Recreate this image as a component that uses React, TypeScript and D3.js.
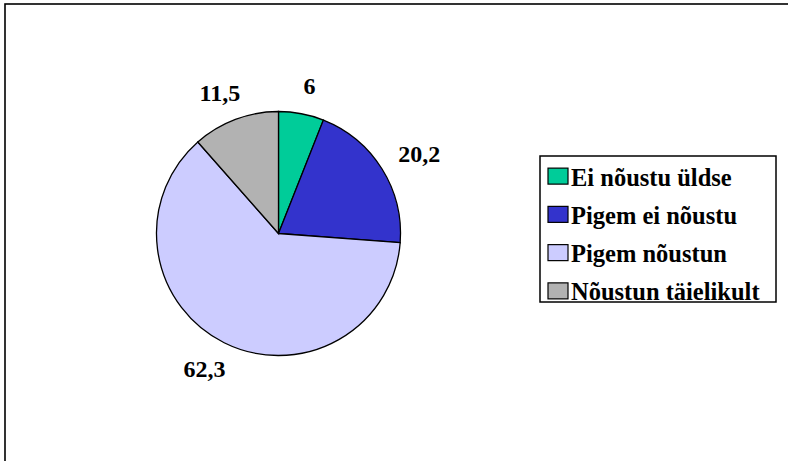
import React from 'react';
import * as d3 from 'd3';

const categories = ['Ei nõustu üldse', 'Pigem ei nõustu', 'Pigem nõustun', 'Nõustun täielikult'];
const values = [6, 20.2, 62.3, 11.5];
const valueLabels = ['6', '20,2', '62,3', '11,5'];
const colors = ['#00CC99', '#3333CC', '#CCCCFF', '#B2B2B2'];

const width = 788;
const height = 461;
const cx = 278.5;
const cy = 233.5;
const radius = 122;
const family = `"Liberation Serif"`;

export default function App() {
  const pie = d3.pie<number>().sort(null).value(d => d)(values);
  const arc = d3.arc<d3.PieArcDatum<number>>().innerRadius(0).outerRadius(radius);

  // labels sit just outside the pie, pushed out by half their box
  const labelR = 142;
  const labelW = 48;
  const labelH = 18;

  const legendRow = d3.scaleBand<string>().domain(categories).range([158, 311]);

  return (
    <svg width={width} height={height} style={{ position: 'absolute', left: 0, top: 0 }}>
      <rect x={0} y={0} width={width} height={height} fill="white" />
      <rect x={5} y={4} width={width + 20} height={height + 20} fill="none" stroke="black" strokeWidth={1.6} />

      <g transform={`translate(${cx},${cy})`}>
        {pie.map((slice, i) => (
          <path key={i} d={arc(slice) || ''} fill={colors[i]} stroke="black" strokeWidth={1.3} />
        ))}
        {pie.map((slice, i) => {
          const a = (slice.startAngle + slice.endAngle) / 2;
          const x = Math.sin(a) * (labelR + labelW / 2);
          const y = -Math.cos(a) * (labelR + labelH / 2);
          return (
            <text key={'l' + i} x={x} y={y} dy="0.35em" textAnchor="middle"
              fontSize={24} fontWeight="bold" style={{ fontFamily: family }} fill="black">
              {valueLabels[i]}
            </text>
          );
        })}
      </g>

      <rect x={540} y={156} width={236} height={146} fill="white" stroke="black" strokeWidth={1.5} />
      {categories.map((c, i) => {
        const y = (legendRow(c) || 0) + legendRow.bandwidth() / 2;
        return (
          <g key={c}>
            <rect x={548} y={y - 9} width={20} height={16} fill={colors[i]} stroke="black" strokeWidth={1.2} />
            <text x={571} y={y} dy="0.35em" fontSize={24.5} fontWeight="bold" style={{ fontFamily: family }} fill="black">
              {c}
            </text>
          </g>
        );
      })}
    </svg>
  );
}
